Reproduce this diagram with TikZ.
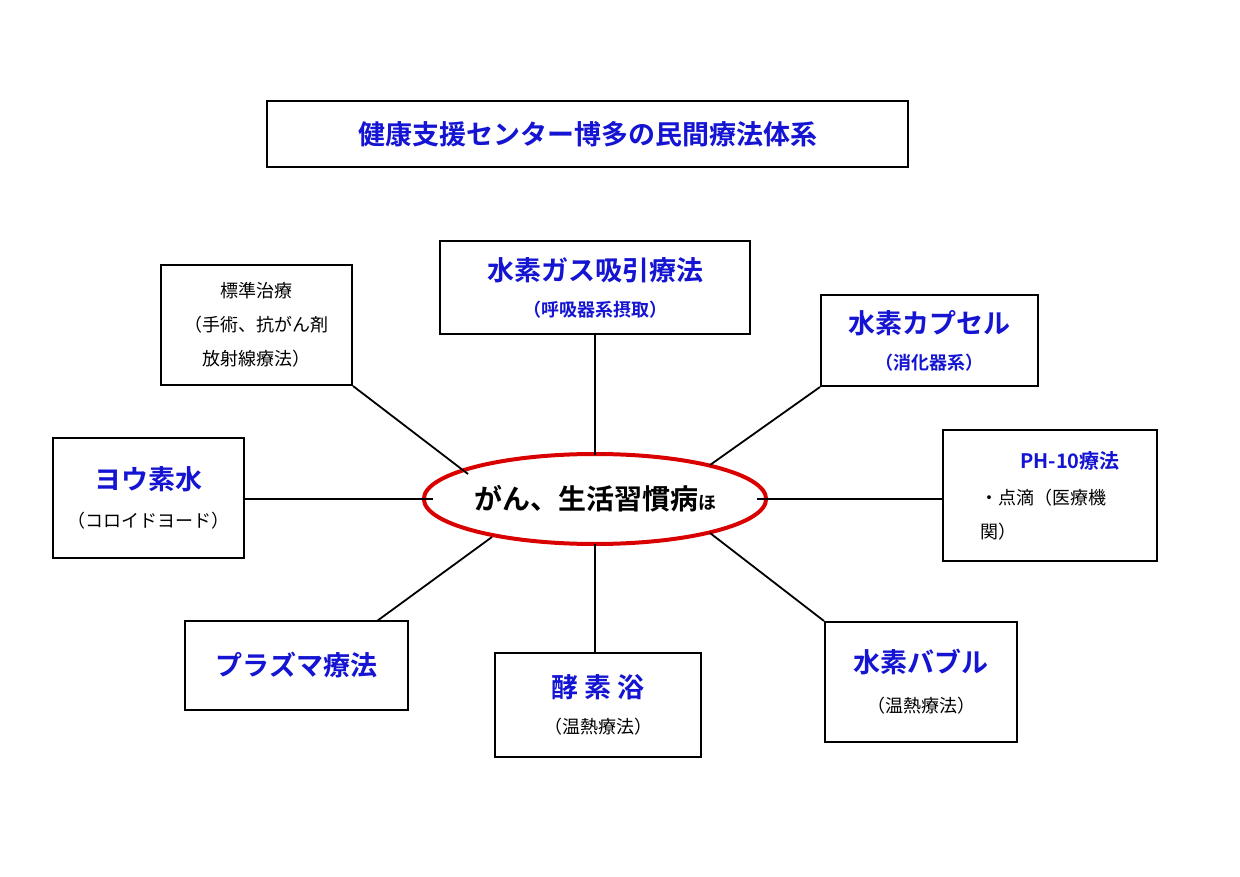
\documentclass[tikz,border=0pt]{standalone}
\usepackage{fontspec}
\setmainfont{Noto Sans CJK JP}[BoldFont={Noto Sans CJK JP Bold}]
\usetikzlibrary{shapes.geometric}
\definecolor{tblue}{RGB}{20,20,210}
\begin{document}
\begin{tikzpicture}[x=1pt,y=-1pt,
  box/.style={draw,line width=2pt,fill=white,inner sep=0pt,align=center,font=\fontsize{18}{30}\selectfont},
  con/.style={line width=1.8pt},
]
\useasboundingbox (0,0) rectangle (1240,877);
\newcommand{\sub}[1]{{\fontsize{18}{30}\selectfont #1}}
\newcommand{\bg}[1]{{\fontsize{27}{40}\selectfont\bfseries\color{tblue}#1}}
\node[box,line width=2.6pt,minimum width=641,minimum height=66] (title) at (587.5,134) {\fontsize{27}{30}\selectfont\bfseries\color{tblue} 健康支援センター博多の民間療法体系};
\node[ellipse,draw=red!85!black,line width=4pt,minimum width=324,minimum height=90,inner sep=0pt] (c) at (595,499) {\fontsize{28}{30}\selectfont\bfseries がん、生活習慣病{\fontsize{18}{20}\selectfont ほ}};
\node[box,minimum width=310,minimum height=93] (top) at (595,287.5) {\bg{水素ガス吸引療法}\\[6pt]{\fontsize{18}{24}\selectfont\bfseries\color{tblue}（呼吸器系摂取）}};
\node[box,minimum width=191,minimum height=120] (std) at (256.5,325) {\sub{標準治療}\\[4pt]\sub{（手術、抗がん剤}\\[4pt]\sub{放射線療法）}};
\node[box,minimum width=217,minimum height=91] (cap) at (929.5,340.5) {\bg{水素カプセル}\\[6pt]{\fontsize{18}{24}\selectfont\bfseries\color{tblue}（消化器系）}};
\node[box,minimum width=214,minimum height=131,align=left] (ph) at (1050,495.5) {\hspace*{40pt}{\fontsize{20}{30}\selectfont\bfseries\color{tblue}PH-10療法}\\[6pt]\sub{・点滴（医療機}\\[4pt]\sub{関）}};
\node[box,minimum width=191,minimum height=120] (iod) at (148.5,498) {\bg{ヨウ素水}\\[8pt]\sub{（コロイドヨード）}};
\node[box,minimum width=223,minimum height=89] (pla) at (296.5,665.5) {\bg{プラズマ療法}};
\node[box,minimum width=206,minimum height=104] (enz) at (598,705) {\bg{酵 素 浴}\\[6pt]\sub{（温熱療法）}};
\node[box,minimum width=192,minimum height=120] (bub) at (921,682) {\bg{水素バブル}\\[10pt]\sub{（温熱療法）}};
\coordinate (cl) at (433,499); \coordinate (il) at (244,499);
\coordinate (cr) at (757,499); \coordinate (pl) at (943,499);
\coordinate (ct) at (595,455); \coordinate (cb) at (595,544); \coordinate (eb) at (595,653);
\coordinate (c1) at (468,474); \coordinate (c2) at (710,465);
\coordinate (c3) at (492,537); \coordinate (p3) at (377,621);
\coordinate (c4) at (710,533);
\draw[con] (il) -- (cl);
\draw[con] (cr) -- (pl);
\draw[con] (top.south) -- (ct);
\draw[con] (cb) -- (eb);
\draw[con] (std.south east) -- (c1);
\draw[con] (cap.south west) -- (c2);
\draw[con] (p3) -- (c3);
\draw[con] (bub.north west) -- (c4);
\end{tikzpicture}
\end{document}
